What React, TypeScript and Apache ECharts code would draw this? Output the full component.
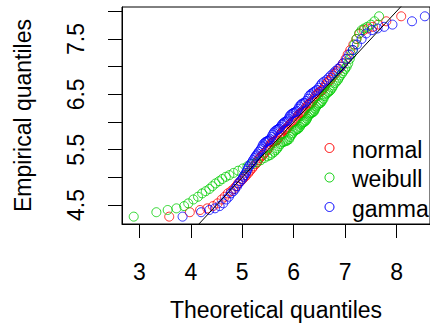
import React, { useEffect, useRef } from "react";
import * as echarts from "echarts";

// Empirical quantiles (sorted sample), shared by all three fits
const yEmpirical = [
  4.29, 4.37, 4.41, 4.44, 4.48, 4.53, 4.60, 4.65, 4.71, 4.75,
  4.79, 4.84, 4.89, 4.93, 4.97, 5.01, 5.04, 5.08, 5.12, 5.16,
  5.20, 5.24, 5.27, 5.31, 5.35, 5.38, 5.40, 5.43, 5.46, 5.49,
  5.52, 5.56, 5.60, 5.63, 5.64, 5.65, 5.66, 5.67, 5.69, 5.73,
  5.77, 5.80, 5.83, 5.85, 5.86, 5.87, 5.88, 5.91, 5.95, 5.97,
  5.99, 6.00, 6.01, 6.03, 6.06, 6.10, 6.13, 6.15, 6.16, 6.17,
  6.18, 6.20, 6.24, 6.28, 6.31, 6.33, 6.34, 6.35, 6.38, 6.42,
  6.47, 6.50, 6.52, 6.54, 6.56, 6.58, 6.62, 6.66, 6.70, 6.73,
  6.76, 6.80, 6.84, 6.88, 6.92, 6.96, 7.00, 7.06, 7.14, 7.22,
  7.30, 7.40, 7.50, 7.60, 7.66, 7.69, 7.72, 7.76, 7.82, 7.91,
];

// Theoretical quantiles of each fitted distribution
const xNormal = [
  3.58, 3.98, 4.18, 4.32, 4.43, 4.52, 4.60, 4.66, 4.72, 4.78,
  4.83, 4.88, 4.92, 4.97, 5.01, 5.05, 5.08, 5.12, 5.15, 5.19,
  5.22, 5.26, 5.29, 5.31, 5.34, 5.37, 5.40, 5.42, 5.45, 5.48,
  5.50, 5.53, 5.55, 5.58, 5.60, 5.62, 5.65, 5.67, 5.69, 5.72,
  5.74, 5.76, 5.78, 5.81, 5.83, 5.85, 5.87, 5.89, 5.92, 5.94,
  5.96, 5.98, 6.01, 6.03, 6.05, 6.07, 6.09, 6.12, 6.14, 6.16,
  6.18, 6.20, 6.23, 6.25, 6.28, 6.30, 6.32, 6.35, 6.37, 6.40,
  6.42, 6.45, 6.48, 6.50, 6.53, 6.56, 6.59, 6.61, 6.64, 6.67,
  6.71, 6.74, 6.77, 6.81, 6.84, 6.88, 6.92, 6.96, 7.01, 7.05,
  7.10, 7.16, 7.22, 7.28, 7.36, 7.44, 7.54, 7.64, 7.80, 8.09,
];

const xWeibull = [
  2.89, 3.33, 3.55, 3.72, 3.87, 3.95, 4.05, 4.14, 4.22, 4.29,
  4.36, 4.42, 4.48, 4.55, 4.61, 4.68, 4.75, 4.83, 4.92, 5.01,
  5.10, 5.19, 5.28, 5.36, 5.43, 5.49, 5.54, 5.58, 5.62, 5.65,
  5.68, 5.71, 5.74, 5.77, 5.80, 5.83, 5.86, 5.88, 5.91, 5.93,
  5.96, 5.98, 6.00, 6.03, 6.05, 6.07, 6.09, 6.12, 6.14, 6.16,
  6.18, 6.20, 6.22, 6.24, 6.26, 6.28, 6.30, 6.32, 6.34, 6.36,
  6.38, 6.40, 6.42, 6.44, 6.47, 6.49, 6.51, 6.53, 6.55, 6.58,
  6.60, 6.62, 6.65, 6.67, 6.70, 6.72, 6.75, 6.77, 6.80, 6.83,
  6.86, 6.88, 6.91, 6.94, 6.97, 7.00, 7.03, 7.06, 7.09, 7.12,
  7.15, 7.18, 7.22, 7.27, 7.32, 7.37, 7.43, 7.50, 7.57, 7.66,
];

const xGamma = [
  3.84, 4.20, 4.36, 4.47, 4.56, 4.63, 4.69, 4.74, 4.78, 4.83,
  4.86, 4.90, 4.93, 4.96, 5.00, 5.02, 5.04, 5.07, 5.09, 5.11,
  5.13, 5.16, 5.19, 5.21, 5.24, 5.26, 5.28, 5.30, 5.32, 5.35,
  5.37, 5.39, 5.41, 5.44, 5.46, 5.48, 5.50, 5.52, 5.54, 5.57,
  5.59, 5.61, 5.63, 5.66, 5.68, 5.70, 5.72, 5.74, 5.77, 5.79,
  5.81, 5.83, 5.86, 5.88, 5.90, 5.92, 5.94, 5.97, 5.99, 6.01,
  6.04, 6.06, 6.09, 6.11, 6.14, 6.16, 6.19, 6.22, 6.24, 6.28,
  6.30, 6.33, 6.36, 6.39, 6.42, 6.45, 6.49, 6.52, 6.55, 6.59,
  6.64, 6.68, 6.72, 6.77, 6.81, 6.86, 6.91, 6.96, 7.03, 7.08,
  7.15, 7.23, 7.32, 7.41, 7.52, 7.63, 7.76, 7.92, 8.30, 8.55,
];

const seriesNames = ["normal", "weibull", "gamma"];
const seriesColors = ["#FF0000", "#00CD00", "#0000FF"];
const xTicks = [3, 4, 5, 6, 7, 8];
const yTicks = [4.5, 5, 5.5, 6, 6.5, 7, 7.5, 8];
const yLabels = [4.5, 5.5, 6.5, 7.5];
const refLine = [4.0, 8.8];

const FONT = "'Liberation Sans', Arial, Helvetica, sans-serif";

export default function App() {
  const ref = useRef<HTMLDivElement>(null);

  useEffect(() => {
    if (!ref.current) return;
    const chart = echarts.init(ref.current, undefined, { renderer: "svg" });
    const xs = [xNormal, xWeibull, xGamma];

    const scatter = seriesNames.map((name, k) => ({
      name,
      type: "scatter",
      symbol: "circle",
      symbolSize: 9,
      itemStyle: {
        color: "transparent",
        borderColor: seriesColors[k],
        borderWidth: 1,
      },
      emphasis: { disabled: true },
      data: yEmpirical.map((y, i) => [xs[k][i], y]),
      z: 2,
    }));

    const legendGraphic: any[] = [];
    seriesNames.forEach((name, k) => {
      const cy = 148 + k * 29.5;
      legendGraphic.push({
        type: "circle",
        shape: { cx: 329.5, cy, r: 4.5 },
        style: { fill: "none", stroke: seriesColors[k], lineWidth: 1 },
      });
      legendGraphic.push({
        type: "text",
        x: 352,
        y: cy + 1.5,
        style: {
          text: name,
          fontSize: 23,
          fontFamily: FONT,
          fill: "#000",
          verticalAlign: "middle",
          align: "left",
        },
      });
    });

    chart.setOption({
      animation: false,
      backgroundColor: "#fff",
      grid: {
        show: true,
        left: 122,
        top: 7,
        width: 324,
        height: 229,
        borderColor: "#000",
        borderWidth: 1,
        backgroundColor: "transparent",
      },
      xAxis: {
        type: "value",
        min: 2.662,
        max: 8.65,
        name: "Theoretical quantiles",
        nameLocation: "middle",
        nameGap: 74,
        nameTextStyle: { fontSize: 23, fontFamily: FONT, color: "#000" },
        axisLine: { show: true, onZero: false, lineStyle: { color: "#000", width: 1 } },
        axisTick: {
          show: true,
          inside: false,
          length: 14,
          customValues: xTicks,
          lineStyle: { color: "#000", width: 1 },
        },
        axisLabel: {
          customValues: xTicks,
          fontSize: 23,
          fontFamily: FONT,
          color: "#000",
          margin: 36,
        },
        splitLine: { show: false },
      },
      yAxis: {
        type: "value",
        min: 4.157,
        max: 8.078,
        name: "Empirical quantiles",
        nameLocation: "middle",
        nameGap: 88,
        nameTextStyle: { fontSize: 23, fontFamily: FONT, color: "#000" },
        axisLine: { show: true, onZero: false, lineStyle: { color: "#000", width: 1 } },
        axisTick: {
          show: true,
          inside: false,
          length: 14,
          customValues: yTicks,
          lineStyle: { color: "#000", width: 1 },
        },
        axisLabel: {
          customValues: yLabels,
          rotate: 90,
          fontSize: 23,
          fontFamily: FONT,
          color: "#000",
          margin: 35,
        },
        splitLine: { show: false },
      },
      series: [
        ...scatter,
        {
          name: "ref",
          type: "line",
          symbol: "none",
          silent: true,
          clip: true,
          lineStyle: { color: "#000", width: 1 },
          data: refLine.map((v) => [v, v]),
          z: 3,
        },
      ],
      graphic: legendGraphic,
    });

    return () => chart.dispose();
  }, []);

  return (
    <div
      ref={ref}
      style={{ position: "fixed", left: 0, top: 0, width: 430, height: 326, background: "#fff" }}
    />
  );
}
